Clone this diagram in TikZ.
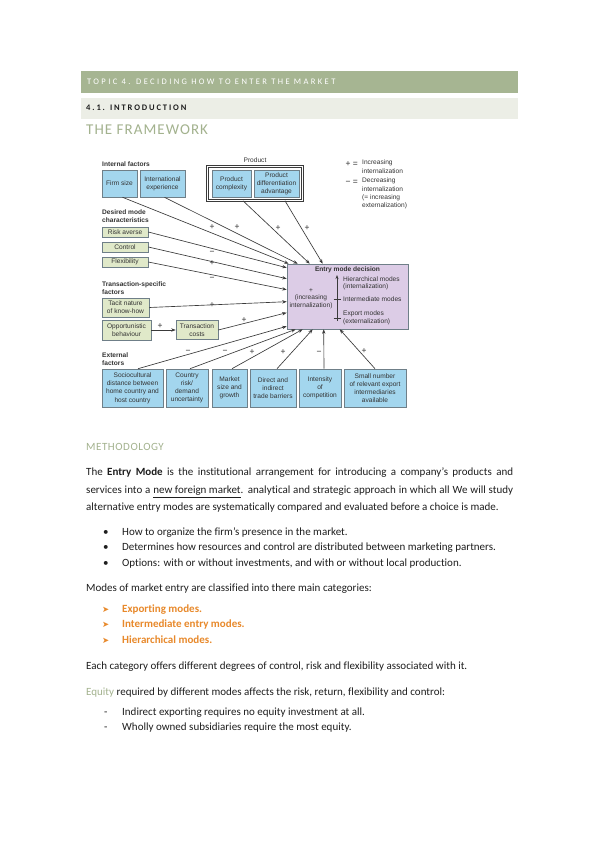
\documentclass[tikz,border=0pt]{standalone}
\usepackage{fontspec}
\setmainfont{Carlito}[Ligatures=NoCommon]
\newfontfamily\dia{Liberation Sans}
\newfontfamily\symf{DejaVu Sans}
\usetikzlibrary{arrows.meta}
\definecolor{sage}{HTML}{A6B592}
\definecolor{sagetext}{HTML}{A3B28E}
\definecolor{lightbar}{HTML}{ECEEE6}
\definecolor{dblue}{HTML}{A3D6EE}
\definecolor{dgreen}{HTML}{E0E9C9}
\definecolor{dpurple}{HTML}{DCCCE6}
\definecolor{bordg}{HTML}{6F7F88}
\definecolor{dtext}{HTML}{333333}
\definecolor{darr}{HTML}{3A3A3A}
\definecolor{orng}{HTML}{E8892B}
\definecolor{bodyt}{HTML}{1E1E1E}
\begin{document}
\begin{tikzpicture}[x=1pt,y=-1pt,
  bx/.style={draw=bordg, line width=0.6pt, fill=dblue, inner sep=0pt, align=center, text=dtext, font=\dia\fontsize{6.6}{8.2}\selectfont},
  gx/.style={bx, fill=dgreen},
  hd/.style={anchor=west, inner sep=0pt, align=left, text=dtext, font=\dia\bfseries\fontsize{6.6}{8.2}\selectfont},
  lt/.style={anchor=west, inner sep=0pt, align=left, text=dtext, font=\dia\fontsize{6.6}{8.2}\selectfont},
  sg/.style={inner sep=0pt, text=dtext, font=\dia\fontsize{8.5}{8.5}\selectfont},
  arr/.style={draw=darr, line width=0.65pt, -{Stealth[length=4.5pt,width=3.4pt]}},
  body/.style={anchor=west, inner sep=0pt, text=bodyt, text height=7.6pt, text depth=2.4pt, font=\fontsize{11}{13}\selectfont},
  orngitem/.style={body, text=orng, font=\bfseries\fontsize{11}{13}\selectfont},
]
\useasboundingbox (0,0) rectangle (599,848);
\fill[white] (0,0) rectangle (599,848);

% ---------- page headers ----------
\fill[sage] (81,71) rectangle (518,93);
\node[anchor=west, inner sep=0pt, text=white, font=\fontsize{8.5}{9}\selectfont\addfontfeature{LetterSpace=28}] (topic) at (87,82) {TOPIC 4. DECIDING HOW TO ENTER THE MARKET};
\fill[lightbar] (81,98) rectangle (518,119);
\node[anchor=west, inner sep=0pt, text=bodyt, font=\bfseries\fontsize{8.5}{9}\selectfont\addfontfeature{LetterSpace=22}] (intro) at (86,108) {4.1. INTRODUCTION};
\node[anchor=west, inner sep=0pt, text=sagetext, font=\fontsize{15}{16}\selectfont\addfontfeature{LetterSpace=7}] (frame) at (86,130) {THE FRAMEWORK};

% ---------- diagram: headings ----------
\node[hd] (hint) at (102,164) {Internal factors};
\node[lt, anchor=center] (hprod) at (255,160) {Product};
\node[hd] (hdes) at (102,216) {Desired mode\\characteristics};
\node[hd] (htra) at (102,288) {Transaction-specific\\factors};
\node[hd] (hext) at (102,359) {External\\factors};

% legend
\node[sg, anchor=east] (lp) at (358,164) {+ =};
\node[sg, anchor=east] (lm) at (358,182) {\textminus\ =};
\node[lt, anchor=north west] (lpt) at (362,160) {Increasing\\internalization};
\node[lt, anchor=north west] (lmt) at (362,178) {Decreasing\\internalization\\(= increasing\\externalization)};

% ---------- boxes ----------
\node[bx, minimum width=35pt, minimum height=27pt] (firm) at (119.5,183.5) {Firm size};
\node[bx, minimum width=45pt, minimum height=27pt] (intl) at (162.5,183.5) {International\\experience};
\node[draw=darr, line width=0.6pt, double=white, double distance=1.2pt, minimum width=95pt, minimum height=34pt, inner sep=0pt] (product) at (255,183.5) {};
\node[bx, minimum width=39pt, minimum height=27pt] (pcomp) at (231.5,183.5) {Product\\complexity};
\node[bx, minimum width=45pt, minimum height=27pt] (pdiff) at (276.5,183.5) {Product\\differentiation\\advantage};

\node[gx, minimum width=46pt, minimum height=10pt] (risk) at (125,232) {Risk averse};
\node[gx, minimum width=46pt, minimum height=10pt] (control) at (125,247) {Control};
\node[gx, minimum width=46pt, minimum height=10pt] (flex) at (125,262) {Flexibility};

\node[gx, minimum width=47pt, minimum height=19pt] (tacit) at (125.5,307.5) {Tacit nature\\of know-how};
\node[gx, minimum width=49pt, minimum height=20pt] (opp) at (126.5,330) {Opportunistic\\behaviour};
\node[gx, minimum width=42pt, minimum height=19pt] (tcost) at (197,330) {Transaction\\costs};

\node[bx, fill=dpurple, minimum width=121pt, minimum height=65pt] (entry) at (347.5,296.5) {};

\node[bx, minimum width=61pt, minimum height=38pt] (socio) at (132.5,388) {Sociocultural\\distance between\\home country and\\host country};
\node[bx, minimum width=42pt, minimum height=38pt] (country) at (187,388) {Country\\risk/\\demand\\uncertainty};
\node[bx, minimum width=35pt, minimum height=38pt] (market) at (229.5,388) {Market\\size and\\growth};
\node[bx, minimum width=46pt, minimum height=38pt] (direct) at (273,388) {Direct and\\indirect\\trade barriers};
\node[bx, minimum width=42pt, minimum height=38pt] (intens) at (320,388) {Intensity\\of\\competition};
\node[bx, minimum width=62pt, minimum height=38pt] (small) at (375,388) {Small number\\of relevant export\\intermediaries\\available};

% entry box contents
\node[hd, anchor=center] (etitle) at (347.5,270) {Entry mode decision};
\node[inner sep=0pt, align=center, text=dtext, font=\dia\fontsize{6.6}{7.6}\selectfont] (eleft) at (311,298.5) {+\\(increasing\\internalization)};
\draw[draw=darr, line width=0.6pt, -{Stealth[length=4pt,width=3pt]}] (337,321) -- (337,275);
\draw[draw=darr, line width=0.6pt] (333.5,299) -- (340.5,299) (333.5,318) -- (340.5,318);
\node[lt] (e1) at (343,279) {Hierarchical modes};
\node[lt] (e2) at (343,287) {(internalization)};
\node[lt] (e3) at (343,299) {Intermediate modes};
\node[lt] (e4) at (343,314) {Export modes};
\node[lt] (e5) at (343,322) {(externalization)};

% ---------- arrows ----------
\draw[arr] ([xshift=3pt]firm.south) -- ([xshift=2pt]entry.north west);
\draw[arr] ([xshift=2pt]intl.south) -- ([xshift=11pt]entry.north west);
\draw[arr] ([xshift=-12pt]product.south) -- ([xshift=23pt]entry.north west);
\draw[arr] ([xshift=30pt]product.south) -- ([xshift=36pt]entry.north west);
\draw[arr] (risk.east) -- ([yshift=-4pt]entry.north west);
\draw[arr] (control.east) -- ([yshift=-15pt]entry.north west);
\draw[arr] (flex.east) -- ([yshift=-26pt]entry.north west);
\draw[arr] (tacit.east) -- ([yshift=-38pt]entry.north west);
\draw[arr] (tcost.east) -- ([yshift=-49pt]entry.north west);
\draw[arr] (opp.east) -- (tcost.west);
\draw[arr] ([xshift=5.5pt]socio.north) -- ([yshift=3pt]entry.south west);
\draw[arr] ([xshift=3pt]country.north) -- ([xshift=9pt]entry.south west);
\draw[arr] ([xshift=2.5pt]market.north) -- ([xshift=16pt]entry.south west);
\draw[arr] ([xshift=4pt]direct.north) -- ([xshift=26pt]entry.south west);
\draw[arr] ([xshift=4pt]intens.north) -- ([xshift=37pt]entry.south west);
\draw[arr] (small.north) -- ([xshift=53pt]entry.south west);

% signs
\node[sg] (s1) at (212,227) {+};
\node[sg] (s2) at (237,227) {+};
\node[sg] (s3) at (278,228) {+};
\node[sg] (s4) at (307,228) {+};
\node[sg] (s5) at (212,253) {\textminus};
\node[sg] (s6) at (212,263) {+};
\node[sg] (s7) at (212,279) {\textminus};
\node[sg] (s8) at (212,305) {+};
\node[sg] (s9) at (160,326) {+};
\node[sg] (s10) at (244,320) {+};
\node[sg] (s11) at (188,352) {\textminus};
\node[sg] (s12) at (225,352) {\textminus};
\node[sg] (s13) at (252,352) {+};
\node[sg] (s14) at (283,352) {+};
\node[sg] (s15) at (319,353) {\textminus};
\node[sg] (s16) at (364,351) {+};

% ---------- methodology text ----------
\node[anchor=west, inner sep=0pt, text=sagetext, font=\fontsize{11}{12}\selectfont\addfontfeature{LetterSpace=5}] (meth) at (86,447) {METHODOLOGY};
\node[body] (p1) at (86,473) {\makebox[427pt][s]{The \textbf{Entry Mode} is the institutional arrangement for introducing a company's products and}};
\node[body] (p2) at (86,491) {\makebox[427pt][s]{services into a \underline{new foreign market}. analytical and strategic approach in which all We will study}};
\node[body] (p3) at (86,508) {alternative entry modes are systematically compared and evaluated before a choice is made.};

\node[body] (b1d) at (103,533) {•};
\node[body] (b1) at (122,533) {How to organize the firm's presence in the market.};
\node[body] (b2d) at (103,548) {•};
\node[body] (b2) at (122,548) {Determines how resources and control are distributed between marketing partners.};
\node[body] (b3d) at (103,564) {•};
\node[body] (b3) at (122,564) {Options: with or without investments, and with or without local production.};

\node[body] (m1) at (86,589) {Modes of market entry are classified into there main categories:};
\node[orngitem] (o1d) at (102,610) {\symf\fontsize{8.5}{8.5}\selectfont ➤};
\node[orngitem] (o1) at (122,610) {Exporting modes.};
\node[orngitem] (o2d) at (102,625) {\symf\fontsize{8.5}{8.5}\selectfont ➤};
\node[orngitem] (o2) at (122,625) {Intermediate entry modes.};
\node[orngitem] (o3d) at (102,641) {\symf\fontsize{8.5}{8.5}\selectfont ➤};
\node[orngitem] (o3) at (122,641) {Hierarchical modes.};

\node[body] (e) at (86,667) {Each category offers different degrees of control, risk and flexibility associated with it.};
\node[body] (eq) at (86,693) {\textcolor{sagetext}{Equity} required by different modes affects the risk, return, flexibility and control:};
\node[body] (d1d) at (104,713) {-};
\node[body] (d1) at (122,713) {Indirect exporting requires no equity investment at all.};
\node[body] (d2d) at (104,728) {-};
\node[body] (d2) at (122,728) {Wholly owned subsidiaries require the most equity.};
\end{tikzpicture}
\end{document}
